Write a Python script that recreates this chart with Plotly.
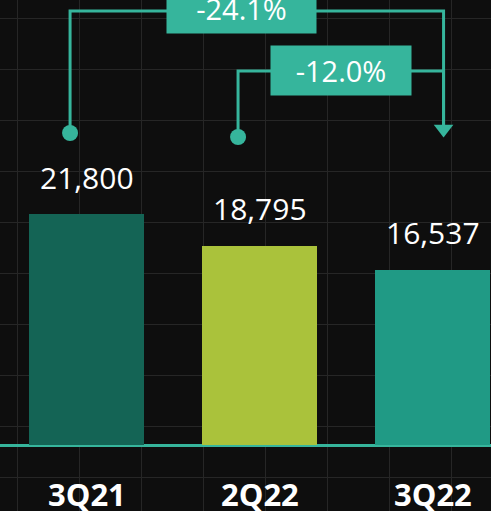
import plotly.graph_objects as go

quarters = ['3Q21', '2Q22', '3Q22']
volumes = [21800, 18795, 16537]
bar_colors = ['#146455', '#aac23b', '#209a85']

teal = '#36b59c'
W, H = 491, 511
base_px = 445          # pixel row of the zero line
ytop = 42000           # value at the top edge
upp = ytop / base_px   # value units per pixel
ymin = -(H - base_px) * upp

def py(px):
    # pixel row -> y value
    return (base_px - px) * upp

chg_3q21 = (volumes[2] - volumes[0]) / volumes[0] * 100
chg_2q22 = (volumes[2] - volumes[1]) / volumes[1] * 100

fig = go.Figure()
fig.add_trace(go.Bar(x=[0, 1, 2], y=volumes, marker_color=bar_colors,
                     marker_line_width=0, width=0.665, hoverinfo='skip'))

# brackets: dot on the older quarter, arrow down on 3Q22
arrow_x = 2.064
for x0, y_dot, y_lvl in [(-0.095, py(133), py(11)), (0.876, py(137), py(71))]:
    fig.add_trace(go.Scatter(x=[x0, x0, arrow_x, arrow_x],
                             y=[y_dot, y_lvl, y_lvl, py(126)],
                             mode='lines', line=dict(color=teal, width=3),
                             hoverinfo='skip'))
    fig.add_trace(go.Scatter(x=[x0], y=[y_dot], mode='markers',
                             marker=dict(color=teal, size=16, symbol='circle'),
                             hoverinfo='skip'))
fig.add_trace(go.Scatter(x=[arrow_x], y=[py(129)], mode='markers',
                         marker=dict(color=teal, size=17, symbol='triangle-down'),
                         hoverinfo='skip'))

# change boxes
fig.add_annotation(x=0.896, y=py(8.5), text='{:.1f}%'.format(chg_3q21),
                   showarrow=False, bgcolor=teal, width=147, height=47,
                   font=dict(family='Open Sans', size=29, color='white'))
fig.add_annotation(x=1.471, y=py(70), text='{:.1f}%'.format(chg_2q22),
                   showarrow=False, bgcolor=teal, width=138, height=47,
                   font=dict(family='Open Sans', size=29, color='white'))

# value labels and quarter labels
for i, v in enumerate(volumes):
    fig.add_annotation(x=i, y=v, text='{:,}'.format(v), showarrow=False,
                       yanchor='middle', yshift=37,
                       font=dict(family='Open Sans', size=30, color='white'))
for i, q in enumerate(quarters):
    fig.add_annotation(x=i, y=0, text='<b>' + q + '</b>', showarrow=False,
                       yanchor='middle', yshift=-49,
                       font=dict(family='Open Sans', size=31, color='white'))

fig.update_layout(
    width=W, height=H,
    margin=dict(l=0, r=0, t=0, b=0),
    paper_bgcolor='#0e0e0e', plot_bgcolor='#0e0e0e',
    showlegend=False, bargap=0,
    xaxis=dict(range=[-0.5, -0.5 + W / 173], showticklabels=False, ticks='',
               showgrid=True, gridcolor='#262626', gridwidth=1,
               tick0=(17 - 86.5) / 173, dtick=62 / 173, zeroline=False,
               fixedrange=True),
    yaxis=dict(range=[ymin, ytop], showticklabels=False, ticks='',
               showgrid=True, gridcolor='#262626', gridwidth=1,
               tick0=py(18), dtick=51 * upp,
               zeroline=True, zerolinecolor=teal, zerolinewidth=3,
               fixedrange=True),
)

fig.write_html('out.html', config={'displayModeBar': False},
               post_script="document.body.style.margin='0';"
                           "document.body.style.background='#0e0e0e';")
